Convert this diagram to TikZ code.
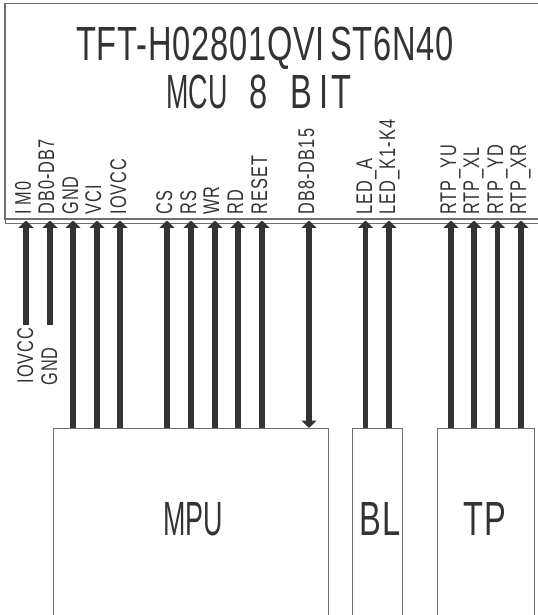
\documentclass[tikz,border=0pt]{standalone}
\usepackage{fontspec}
\usepackage{xcolor}
\newfontfamily\narrowfont[FakeStretch=0.56]{Liberation Sans}
\newfontfamily\titlefont[FakeStretch=0.68,LetterSpace=1.6]{Liberation Sans}
\newfontfamily\signalfont[FakeStretch=0.72,LetterSpace=5]{Liberation Sans}
\usetikzlibrary{positioning,arrows.meta}
\definecolor{inkgray}{HTML}{333333}
\definecolor{boxgray}{HTML}{707070}
\begin{document}
\begin{tikzpicture}[x=0.75pt, y=-0.75pt,
        unit/.style={draw=boxgray, line width=0.8pt, rectangle, anchor=north west, inner sep=0pt, minimum height=165pt},
        bigtext/.style={inkgray, font=\titlefont\fontsize{36}{36}\selectfont, inner sep=0pt, anchor=base},
        signal/.style={inkgray, font=\signalfont\fontsize{17}{17}\selectfont, rotate=90, anchor=base west, inner sep=0pt},
        pin/.style={coordinate},
        wire/.style={inkgray, line width=3.9pt, -{Triangle[width=11pt,length=5.5pt]}},
        bus/.style={inkgray, line width=3.9pt, {Triangle[width=11pt,length=5.5pt]}-{Triangle[width=11pt,length=5.5pt]}}
    ]
        \useasboundingbox (0,0) rectangle (537,615);

        \node [unit, minimum width=420pt] (lcd) at (5,2.5) {};
        \draw [boxgray, line width=0.8pt] (5,2.5) -- (5,219) -- (545,219);
        \node [unit, minimum width=206pt] (mpu) at (53,428) {};
        \node [unit, minimum width=37.5pt] (bl) at (352,428) {};
        \node [unit, minimum width=72.5pt] (tp) at (437,428) {};

        \node [bigtext] (title) at (265,60) {TFT-H02801QVI\kern4pt ST6N40};
        \node [bigtext] (mode) at (259,108) {{\narrowfont MCU}\kern9pt{} 8\kern10pt{} B\kern5.5pt I\kern2pt T};
        \node [bigtext, font=\narrowfont\fontsize{36}{36}\selectfont] (mpulabel) at (193,535) {MPU};
        \node [bigtext] (bllabel) at (380,535) {BL};
        \node [bigtext] (tplabel) at (485,535) {TP};

        \node [pin] (a1) at (26,220.5) {};
        \node [pin] (a2) at (50,220.5) {};
        \node [pin] (a3) at (73,220.5) {};
        \node [pin] (a4) at (97,220.5) {};
        \node [pin] (a5) at (120,220.5) {};
        \node [pin] (a6) at (167,220.5) {};
        \node [pin] (a7) at (191,220.5) {};
        \node [pin] (a8) at (215,220.5) {};
        \node [pin] (a9) at (238,220.5) {};
        \node [pin] (a10) at (262,220.5) {};
        \node [pin] (a11) at (309,220.5) {};
        \node [pin] (a12) at (365.5,220.5) {};
        \node [pin] (a13) at (389,220.5) {};
        \node [pin] (a14) at (451,220.5) {};
        \node [pin] (a15) at (474,220.5) {};
        \node [pin] (a16) at (497.5,220.5) {};
        \node [pin] (a17) at (521,220.5) {};

        \node [pin, below=78.4pt of a1] (b1) {};
        \node [pin, below=78.4pt of a2] (b2) {};
        \node [pin, below=155.6pt of a3] (b3) {};
        \node [pin, below=155.6pt of a4] (b4) {};
        \node [pin, below=155.6pt of a5] (b5) {};
        \node [pin, below=155.6pt of a6] (b6) {};
        \node [pin, below=155.6pt of a7] (b7) {};
        \node [pin, below=155.6pt of a8] (b8) {};
        \node [pin, below=155.6pt of a9] (b9) {};
        \node [pin, below=155.6pt of a10] (b10) {};
        \node [pin, below=155.6pt of a11] (b11) {};
        \node [pin, below=155.6pt of a12] (b12) {};
        \node [pin, below=155.6pt of a13] (b13) {};
        \node [pin, below=155.6pt of a14] (b14) {};
        \node [pin, below=155.6pt of a15] (b15) {};
        \node [pin, below=155.6pt of a16] (b16) {};
        \node [pin, below=155.6pt of a17] (b17) {};

        \node [signal] (n1) at (31,215) {I\kern3.5pt M0};
        \node [signal] (n2) at (54,215) {DB0-DB7};
        \node [signal] (n3) at (78,215) {GND};
        \node [signal] (n4) at (101,215) {VC\kern1pt I};
        \node [signal] (n5) at (126,215) {I\kern1pt OVCC};
        \node [signal] (n6) at (172,215) {CS};
        \node [signal] (n7) at (196,215) {RS};
        \node [signal] (n8) at (219,215) {WR};
        \node [signal] (n9) at (243,215) {RD};
        \node [signal] (n10) at (267,215) {RESET};
        \node [signal] (n11) at (314,215) {DB8-DB15};
        \node [signal] (n12) at (372,215) {LED\_A};
        \node [signal] (n13) at (395,215) {LED\_K1-K4};
        \node [signal] (n14) at (456,215) {RTP\_YU};
        \node [signal] (n15) at (479,215) {RTP\_XL};
        \node [signal] (n16) at (503,215) {RTP\_YD};
        \node [signal] (n17) at (526,215) {RTP\_XR};
        \node [signal] (v1) at (33,384) {I\kern1pt OVCC};
        \node [signal] (v2) at (57,386) {GND};

        \draw [wire] (b1) -- (a1);
        \draw [wire] (b2) -- (a2);
        \draw [wire] (b3) -- (a3);
        \draw [wire] (b4) -- (a4);
        \draw [wire] (b5) -- (a5);
        \draw [wire] (b6) -- (a6);
        \draw [wire] (b7) -- (a7);
        \draw [wire] (b8) -- (a8);
        \draw [wire] (b9) -- (a9);
        \draw [wire] (b10) -- (a10);
        \draw [bus] (b11) -- (a11);
        \draw [wire] (b12) -- (a12);
        \draw [wire] (b13) -- (a13);
        \draw [wire] (b14) -- (a14);
        \draw [wire] (b15) -- (a15);
        \draw [wire] (b16) -- (a16);
        \draw [wire] (b17) -- (a17);
    \end{tikzpicture}
\end{document}
